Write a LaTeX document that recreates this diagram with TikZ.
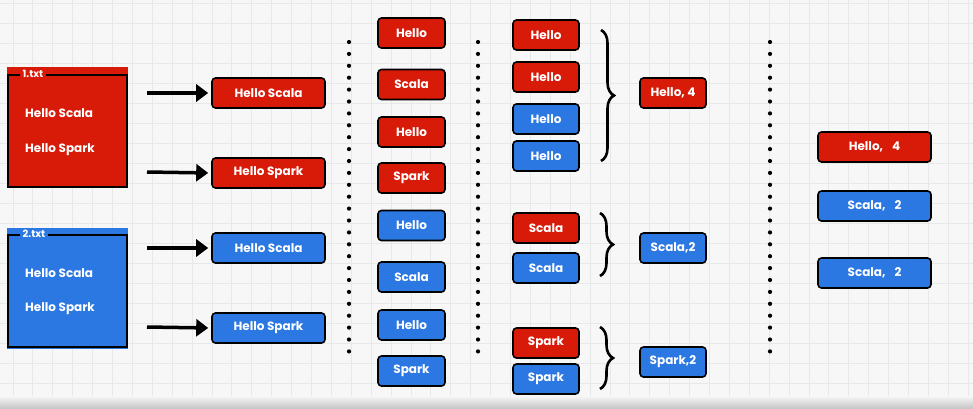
\documentclass[tikz,border=0pt]{standalone}
\usepackage{fontspec}
\setmainfont{Poppins}
\usetikzlibrary{positioning,arrows.meta,decorations.pathreplacing}

\definecolor{boxred}{HTML}{D81A08}
\definecolor{boxblue}{HTML}{2B78E2}
\definecolor{paper}{HTML}{F6F7F6}
\definecolor{gridgray}{HTML}{E7E9E8}

\begin{document}
\begin{tikzpicture}[x=1pt, y=-1pt, font=\fontsize{12}{14}\selectfont\bfseries,
  wordbox/.style={draw=black, line width=1.6pt, rounded corners=3.5pt, text=white,
    minimum height=30pt, inner sep=0pt},
  linebox/.style={wordbox, minimum width=113pt},
  keybox/.style={wordbox, minimum width=66pt},
  filefill/.style={minimum width=121pt, minimum height=121pt, inner sep=0pt},
  fileframe/.style={draw=black, line width=1.6pt, minimum width=119pt,
    minimum height=112pt, inner sep=0pt},
  filetag/.style={text=white, inner xsep=3pt, inner ysep=1pt,
    font=\fontsize{10}{11}\selectfont\bfseries},
  fileline/.style={text=white, anchor=west, inner sep=0pt},
  feed/.style={line width=3.5pt, -{Triangle[length=12pt,width=17pt]}, shorten >=3pt},
  dotline/.style={line width=4.2pt, line cap=round, dash pattern=on 0pt off 11.9pt},
  curly/.style={line width=2.6pt, decorate, decoration={brace, amplitude=13pt}}]
  \useasboundingbox (0,0) rectangle (973,408);
  % paper and grid
  \fill[paper] (0,0) rectangle (973,408);
  \foreach \gx in {0,...,48}
    \draw[gridgray, line width=0.9pt] (13+\gx*19.9,0) -- (13+\gx*19.9,408);
  \foreach \gy in {0,...,20}
    \draw[gridgray, line width=0.9pt] (0,3+\gy*20) -- (973,3+\gy*20);
  \shade[top color=paper, bottom color=black!22] (0,396) rectangle (973,408);

  % 1.txt
  \node[filefill, fill=boxred] (f1) at (67.5,127.5) {};
  \node[fileframe] (f1frame) at (67.5,131) {};
  \node[filetag, fill=boxred] (f1tag) at (33,74) {1.txt};
  \node[fileline] (f1a) at (25,113) {Hello Scala};
  \node[fileline] (f1b) at (25,150) {Hello Spark};
  % 2.txt
  \node[filefill, fill=boxblue] (f2) at (67.5,288) {};
  \node[fileframe] (f2frame) at (67.5,291) {};
  \node[filetag, fill=boxblue] (f2tag) at (34,234) {2.txt};
  \node[fileline] (f2a) at (25,273) {Hello Scala};
  \node[fileline] (f2b) at (25,309) {Hello Spark};

  % lines
  \node[linebox, fill=boxred] (l1) at (268.5,93) {Hello Scala};
  \node[linebox, fill=boxred] (l2) at (268.5,173) {Hello Spark};
  \node[linebox, fill=boxblue] (l3) at (268.5,248) {Hello Scala};
  \node[linebox, fill=boxblue] (l4) at (268.5,328) {Hello Spark};
  \coordinate (a1) at (147,93);
  \coordinate (a2) at (147,172);
  \coordinate (a3) at (147,248);
  \coordinate (a4) at (147,327);
  \draw[feed] (a1) -- (l1.west);
  \draw[feed] (a2) -- (l2.west);
  \draw[feed] (a3) -- (l3.west);
  \draw[feed] (a4) -- (l4.west);

  % separators
  \draw[dotline] (349,42) -- (349,352);
  \draw[dotline] (478,42) -- (478,352);
  \draw[dotline] (770,42) -- (770,352);

  % words
  \foreach \w/\y/\c [count=\i] in {Hello/33/red, Scala/84.5/red, Hello/132/red,
      Spark/178/red, Hello/225.5/blue, Scala/277/blue, Hello/325/blue, Spark/371/blue}
    \node[keybox, fill=box\c, minimum width=67pt] (w\i) at (411.5,\y) {\w};

  % grouped words
  \foreach \w/\y/\c [count=\i] in {Hello/35/red, Hello/77/red, Hello/119/blue,
      Hello/156/blue, Scala/228/red, Scala/268/blue, Spark/343/red, Spark/379/blue}
    \node[keybox, fill=box\c] (g\i) at (546,\y) {\w};
  \draw[curly] (601,30) -- (601,161);
  \draw[curly] (600,213) -- (600,276);
  \draw[curly] (600,327) -- (600,389);

  % counts
  \node[keybox, fill=boxred] (k1) at (673,93) {Hello, 4};
  \node[keybox, fill=boxblue] (k2) at (673,248) {Scala,2};
  \node[keybox, fill=boxblue] (k3) at (673,362) {Spark,2};

  % results
  \node[linebox, fill=boxred] (r1) at (874.5,147) {Hello,\hspace{9pt}4};
  \node[linebox, fill=boxblue] (r2) at (874.5,206) {Scala,\hspace{9pt}2};
  \node[linebox, fill=boxblue] (r3) at (874.5,273) {Scala,\hspace{9pt}2};
\end{tikzpicture}
\end{document}
